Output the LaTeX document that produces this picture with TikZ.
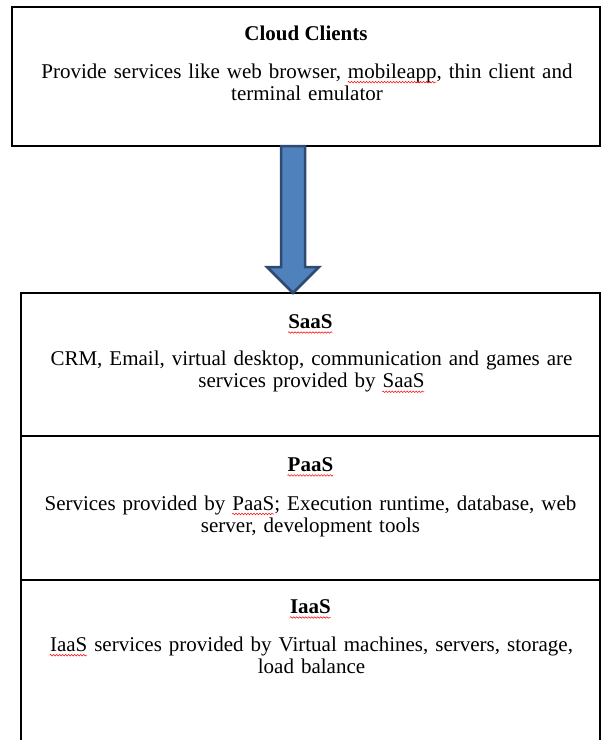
\documentclass[tikz,border=0pt]{standalone}
\usepackage{fontspec}
\setmainfont{Liberation Serif}
\usetikzlibrary{calc,decorations.pathmorphing}
\newsavebox\wavebox
\newcommand\redwave[1]{\sbox\wavebox{#1}\usebox\wavebox\llap{\tikz[baseline=0pt]{\draw[red, line width=0.5pt, decorate, decoration={snake, amplitude=0.8pt, segment length=3pt}] (0pt,-4pt) -- (\wd\wavebox,-4pt);}}}
\definecolor{arrowfill}{HTML}{4F81BD}
\definecolor{arrowdraw}{HTML}{2E4A70}
\tikzset{
  box/.style={draw=black, line width=1.2pt, rectangle, inner sep=0pt, outer sep=0pt},
  titletext/.style={font=\fontsize{21}{22}\selectfont\bfseries, inner sep=0pt},
  bodytext/.style={font=\fontsize{21}{22}\selectfont, text width=590pt, align=center, inner sep=0pt},
  bigarrow/.style={fill=arrowfill, draw=arrowdraw, line width=2.5pt, line join=miter}
}
\begin{document}
\begin{tikzpicture}[x=1pt, y=-1pt]
\useasboundingbox (0,0) rectangle (601,740);
% top box
\node[box, minimum width=588pt, minimum height=139pt, anchor=north west] (clients) at (12,7) {};
\node[titletext] (clientsT) at ($(clients.north)+(0,26)$) {Cloud Clients};
\node[bodytext] (clientsB) at ($(clients.north)+(1,75)$) {Provide services like web browser, \redwave{mobileapp}, thin client and\\ terminal emulator};
% bottom stack
\node[box, minimum width=579pt, minimum height=143pt, anchor=north west] (saas) at (21,293) {};
\node[box, minimum width=579pt, minimum height=144pt, anchor=north west] (paas) at (saas.south west) {};
\node[box, minimum width=579pt, minimum height=180pt, anchor=north west] (iaas) at (paas.south west) {};
\node[titletext] (saasT) at ($(saas.north)+(0,31)$) {\redwave{SaaS}};
\node[bodytext] (saasB) at ($(saas.north)+(1,79)$) {CRM, Email, virtual desktop, communication and games are\\ services provided by \redwave{SaaS}};
\node[titletext] (paasT) at ($(paas.north)+(0,31)$) {\redwave{PaaS}};
\node[bodytext] (paasB) at ($(paas.north)+(0,80)$) {Services provided by \redwave{PaaS}; Execution runtime, database, web\\ server, development tools};
\node[titletext] (iaasT) at ($(iaas.north)+(0,29)$) {\redwave{IaaS}};
\node[bodytext] (iaasB) at ($(iaas.north)+(1,75)$) {\redwave{IaaS} services provided by Virtual machines, servers, storage,\\ load balance};
% arrow
\coordinate (atop) at (clients.south -| 293,0);
\coordinate (abot) at (saas.north -| 293,0);
\draw[bigarrow] ($(atop)+(-12,0)$) -- ($(atop)+(12,0)$) -- ($(abot)+(12,-26)$) -- ($(abot)+(26,-26)$) -- (abot) -- ($(abot)+(-26,-26)$) -- ($(abot)+(-12,-26)$) -- cycle;
\end{tikzpicture}
\end{document}
